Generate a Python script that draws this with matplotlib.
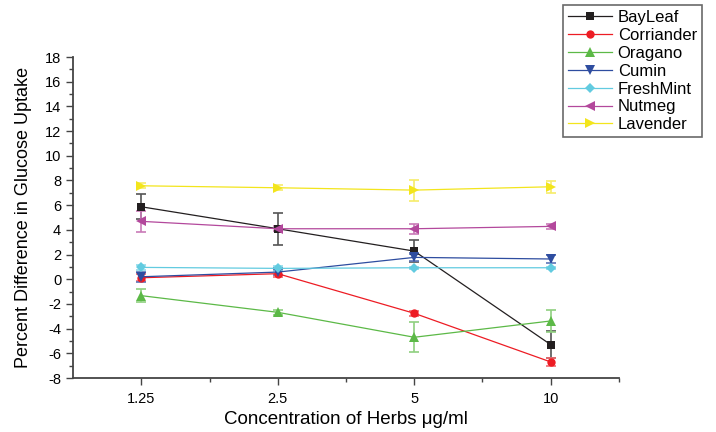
import numpy as np
import matplotlib.pyplot as plt

plt.rcParams['font.family'] = ['Liberation Sans', 'DejaVu Sans']
plt.rcParams['axes.unicode_minus'] = False

# -------------------------
# Data
# -------------------------
concentrations = ['1.25', '2.5', '5', '10']
herbs = ['BayLeaf', 'Corriander', 'Oragano', 'Cumin', 'FreshMint', 'Nutmeg', 'Lavender']

bayleaf = [5.87, 4.09, 2.28, -5.3]
corriander = [0.12, 0.45, -2.76, -6.7]
oragano = [-1.33, -2.68, -4.7, -3.38]
cumin = [0.2, 0.58, 1.77, 1.64]
freshmint = [0.96, 0.88, 0.93, 0.93]
nutmeg = [4.69, 4.09, 4.09, 4.28]
lavender = [7.57, 7.41, 7.22, 7.49]

bayleaf_err = [1.0, 1.3, 0.9, 1.1]
corriander_err = [0.3, 0.3, 0.2, 0.3]
oragano_err = [0.5, 0.2, 1.2, 0.9]
cumin_err = [0.4, 0.2, 0.3, 0.3]
freshmint_err = [0.2, 0.2, 0.1, 0.1]
nutmeg_err = [0.85, 0.2, 0.4, 0.2]
lavender_err = [0.2, 0.2, 0.85, 0.5]

series = [bayleaf, corriander, oragano, cumin, freshmint, nutmeg, lavender]
errors = [bayleaf_err, corriander_err, oragano_err, cumin_err, freshmint_err, nutmeg_err, lavender_err]

colors = ['#231f20', '#ed1c24', '#5cb947', '#2e4da0', '#62cbe0', '#b3489c', '#f3e51c']
err_colors = ['#555555', '#f26a6f', '#8fd07f', '#5c74b8', '#8fdaea', '#c97ab8', '#f6ec6a']
markers = ['s', 'o', '^', 'v', 'D', '<', '>']
sizes = [6, 6, 7, 7, 5.5, 7, 7]

# -------------------------
# Plot
# -------------------------
fig = plt.figure(figsize=(7.16, 4.32), dpi=100)
ax = fig.add_axes([0.102, 0.125, 0.7625, 0.743])

x = np.arange(len(concentrations))
handles = []
for name, vals, err, c, ec, m, s in zip(herbs, series, errors, colors, err_colors, markers, sizes):
    ax.errorbar(x, vals, yerr=err, fmt='none', ecolor=ec, elinewidth=1.2,
                capsize=3.5, capthick=1.2, zorder=2)
    h, = ax.plot(x, vals, color=c, lw=0.9, marker=m, markersize=s,
                 markeredgewidth=0, label=name, zorder=3)
    handles.append(h)

ax.set_xlim(-0.5, 3.5)
ax.set_ylim(-8, 18)
ax.set_xticks(x)
ax.set_xticklabels(concentrations)
ax.set_xticks([0.5, 1.5, 2.5, 3.5], minor=True)
ax.set_yticks(np.arange(-8, 19, 2))
ax.set_yticks(np.arange(-7, 18, 2), minor=True)

for side in ['top', 'right']:
    ax.spines[side].set_visible(False)
for side in ['left', 'bottom']:
    ax.spines[side].set_color('#444444')
    ax.spines[side].set_linewidth(1.3)

ax.tick_params(which='major', length=5, width=1, color='#444444', labelsize=10.5)
ax.tick_params(axis='x', which='major', pad=5)
ax.tick_params(which='minor', length=3, width=1, color='#444444')

ax.set_xlabel('Concentration of Herbs μg/ml', fontsize=13.5, labelpad=4)
ax.set_ylabel('Percent Difference in Glucose Uptake', fontsize=13, labelpad=9)

leg = fig.legend(handles=handles, loc='upper left', bbox_to_anchor=(0.787, 0.988),
                 fontsize=12, frameon=True, fancybox=False, edgecolor='#444444',
                 handlelength=2.6, handletextpad=0.35, labelspacing=0.17,
                 borderpad=0.3, borderaxespad=0)
leg.get_frame().set_linewidth(1.2)

fig.savefig('out.png', dpi=100)
